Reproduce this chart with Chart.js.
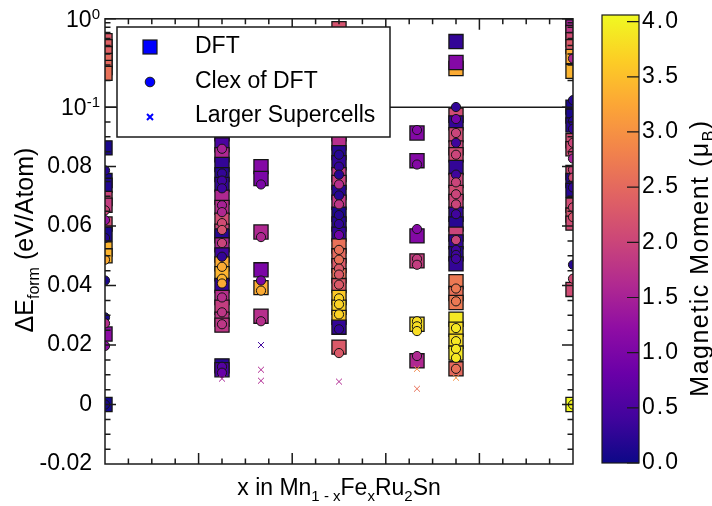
<!DOCTYPE html>
<html>
<head>
<meta charset="utf-8">
<script src="https://cdn.jsdelivr.net/npm/chart.js@4.4.1/dist/chart.umd.min.js"></script>
<style>
  html, body { margin: 0; padding: 0; background: #fff; }
  #wrap { width: 712px; height: 506px; }
</style>
</head>
<body>
<div id="wrap"><canvas id="chart" width="712" height="506"></canvas></div>
<script>
const FONT = '"Liberation Sans", Arial, Helvetica, sans-serif';

// x in Mn(1-x)Fe(x)Ru2Sn
const compositions = [0, 0.25, 1 / 3, 0.5, 2 / 3, 0.75, 1];

// DFT formation energies (eV/atom), one list per composition
const dftEnergy = [
  [0.566, 0.484, 0.404, 0.337, 0.281, 0.241, 0.0863, 0.0753, 0.0737, 0.0693, 0.067, 0.0607, 0.0573, 0.0523, 0.05, 0.0237, 0],
  [0.095, 0.091, 0.0873, 0.084, 0.0807, 0.0773, 0.074, 0.0697, 0.0663, 0.062, 0.0583, 0.0567, 0.0537, 0.0503, 0.0473, 0.044, 0.04, 0.036, 0.0327, 0.0287, 0.0267, 0.013, 0.0117],
  [0.08, 0.076, 0.058, 0.0453, 0.0393, 0.0297],
  [0.772, 0.095, 0.091, 0.088, 0.0847, 0.0813, 0.0773, 0.0747, 0.0713, 0.068, 0.064, 0.0607, 0.0573, 0.0533, 0.05, 0.0467, 0.0433, 0.04, 0.036, 0.0327, 0.0293, 0.026, 0.0193],
  [0.0913, 0.082, 0.0567, 0.0483, 0.027, 0.0147],
  [0.552, 0.274, 0.32, 0.0973, 0.0947, 0.0907, 0.0863, 0.084, 0.0797, 0.0753, 0.0713, 0.0683, 0.064, 0.0607, 0.0573, 0.0547, 0.0507, 0.0473, 0.0413, 0.0373, 0.0343, 0.0287, 0.0253, 0.0213, 0.0173, 0.012],
  [0.98, 0.81, 0.7, 0.58, 0.484, 0.374, 0.254, 0.1, 0.097, 0.094, 0.0887, 0.086, 0.078, 0.0753, 0.072, 0.067, 0.0637, 0.061, 0.0387, 0]
];
// magnetic moment (muB) of each DFT structure
const dftMoment = [
  [2.3, 2.4, 2.4, 2.5, 2.5, 2.6, 0.1, 0.1, 0.15, 2.0, 1.9, 2.1, 0.1, 3.4, 3.4, 1.2, 0.05],
  [0.5, 1.6, 0.5, 1.6, 0.3, 0.2, 0.3, 1.6, 1.7, 2.1, 2.0, 0.2, 1.6, 0.4, 3.3, 3.4, 0.3, 1.7, 1.9, 1.8, 1.8, 0.2, 0.5],
  [1.1, 1.0, 1.6, 1.0, 3.3, 1.7],
  [2.2, 0.3, 1.7, 1.7, 0.2, 0.3, 1.8, 1.9, 0.2, 1.8, 0.1, 0.2, 0.3, 2.6, 2.5, 2.3, 2.6, 2.3, 3.6, 3.7, 3.6, 0.3, 2.3],
  [1.1, 1.1, 1.1, 1.9, 3.8, 1.6],
  [0.3, 3.3, 1.1, 2.1, 0.3, 2.1, 2.0, 2.1, 0.3, 2.0, 2.1, 2.0, 0.3, 0.2, 2.0, 0.3, 0.2, 0.3, 2.7, 2.6, 2.7, 3.9, 3.8, 3.8, 3.9, 2.5],
  [0.1, 1.5, 1.8, 2.1, 2.3, 3.3, 3.4, 0.1, 0.1, 0.2, 2.1, 2.1, 2.1, 0.2, 0.2, 2.1, 2.2, 2.1, 2.1, 4.05]
];

// cluster expansion predictions for the same structures
const clexEnergy = [
  [0.0787, 0.0653, 0.062, 0.056, 0.0487, 0.0417, 0.0293, 0.0273, 0.0197, 0],
  [0.086, 0.0777, 0.0753, 0.0727, 0.067, 0.0647, 0.061, 0.0587, 0.0543, 0.0497, 0.0463, 0.0423, 0.0407, 0.036, 0.031, 0.027, 0.0127, 0.0107],
  [0.074, 0.0563, 0.0417, 0.0383, 0.028],
  [0.084, 0.08, 0.0773, 0.074, 0.0703, 0.0673, 0.0637, 0.0607, 0.057, 0.052, 0.0487, 0.0457, 0.0437, 0.0403, 0.0357, 0.0337, 0.0303, 0.0253, 0.0173],
  [0.0923, 0.0807, 0.059, 0.049, 0.047, 0.028, 0.0263, 0.0247, 0.0163],
  [0.1003, 0.096, 0.0913, 0.088, 0.084, 0.0773, 0.0747, 0.0707, 0.0673, 0.064, 0.0553, 0.052, 0.0503, 0.049, 0.039, 0.0347, 0.0257, 0.0213, 0.0187, 0.0157, 0.012],
  [0.355, 0.12, 0.0953, 0.0927, 0.088, 0.0847, 0.0827, 0.079, 0.0763, 0.073, 0.0663, 0.063, 0.047, 0.0423, 0]
];
const clexMoment = [
  [0.2, 2.0, 1.3, 0.2, 3.3, 0.1, 0.1, 1.7, 1.2, 0.1],
  [1.5, 0.3, 0.4, 0.4, 1.5, 1.6, 2.1, 2.2, 2.0, 0.3, 3.3, 3.4, 3.3, 1.7, 1.8, 1.8, 0.6, 0.8],
  [1.0, 1.6, 1.0, 3.3, 1.7],
  [0.2, 0.3, 0.2, 1.7, 0.2, 1.8, 0.2, 0.3, 0.9, 2.6, 2.6, 2.3, 2.3, 2.3, 3.7, 3.7, 3.7, 0.3, 2.3],
  [1.1, 1.1, 1.1, 1.9, 1.9, 3.8, 3.8, 3.8, 1.6],
  [0.3, 0.9, 2.0, 0.4, 2.0, 0.4, 2.0, 2.0, 2.0, 0.4, 2.0, 0.4, 0.4, 0.4, 2.7, 2.7, 3.9, 3.9, 3.9, 3.9, 2.6],
  [1.6, 0.2, 0.2, 0.3, 2.0, 2.0, 1.5, 2.0, 2.1, 0.3, 2.1, 2.2, 0.2, 2.1, 4.0]
];

// larger supercells searched with the cluster expansion
const superEnergy = [[], [0.0087], [0.02, 0.0117, 0.008], [0.0077], [0.012, 0.0053], [0.009], []];
const superMoment = [[], [1.5], [0.4, 1.6, 1.6], [1.6], [2.9, 2.6], [3.0], []];

// y axis: linear up to 0.1, log10 above
const yTickValues = [-0.02, 0, 0.02, 0.04, 0.06, 0.08, 0.1, 1];
const yTickText = ['-0.02', '0', '0.02', '0.04', '0.06', '0.08', '', ''];
const yPowerTicks = [[0.1, '-1'], [1, '0']];

const momentTicks = [0, 0.5, 1, 1.5, 2, 2.5, 3, 3.5, 4];
const MOMENT_MAX = 4.06;

const SPLIT = 0.1;
const LOG_DECADE = 0.0297; // height of one decade, in linear units

const PLASMA = ['#0d0887', '#41049d', '#6a00a8', '#8f0da4', '#b12a90', '#cc4778',
                '#e16462', '#f2844b', '#fca636', '#fcce25', '#f0f921'];

function hexRgb(h) {
  return [1, 3, 5].map(i => parseInt(h.slice(i, i + 2), 16));
}

function plasma(t) {
  t = Math.min(1, Math.max(0, t));
  const s = t * (PLASMA.length - 1);
  const i = Math.min(Math.floor(s), PLASMA.length - 2);
  const f = s - i;
  const a = hexRgb(PLASMA[i]), b = hexRgb(PLASMA[i + 1]);
  const c = a.map((v, k) => Math.round(v + (b[k] - v) * f));
  return `rgb(${c[0]}, ${c[1]}, ${c[2]})`;
}

function toLin(v) {
  return v <= SPLIT ? v : SPLIT + Math.log10(v / SPLIT) * LOG_DECADE;
}
function fromLin(t) {
  return t <= SPLIT ? t : SPLIT * Math.pow(10, (t - SPLIT) / LOG_DECADE);
}

class SplitLogScale extends Chart.Scale {
  determineDataLimits() {
    this.min = this.options.min;
    this.max = this.options.max;
  }
  buildTicks() {
    return yTickValues.map(value => ({ value }));
  }
  getLabelForValue(value) {
    return String(value);
  }
  configure() {
    super.configure();
    this._lo = toLin(this.min);
    this._span = toLin(this.max) - this._lo;
  }
  getPixelForValue(value) {
    return this.getPixelForDecimal((toLin(value) - this._lo) / this._span);
  }
  getValueForPixel(pixel) {
    return fromLin(this._lo + this.getDecimalForPixel(pixel) * this._span);
  }
}
SplitLogScale.id = 'splitlog';
SplitLogScale.defaults = {};
Chart.register(SplitLogScale);

function buildSeries(energy, moment) {
  const data = [];
  const colors = [];
  compositions.forEach((x, i) => {
    energy[i].forEach((e, j) => {
      data.push({ x, y: e });
      colors.push(plasma(moment[i][j] / MOMENT_MAX));
    });
  });
  return { data, colors };
}

const dft = buildSeries(dftEnergy, dftMoment);
const clex = buildSeries(clexEnergy, clexMoment);
const bigCells = buildSeries(superEnergy, superMoment);

// text with sub/superscript pieces: [text, shift] with shift 1 = sub, -1 = sup
function drawRuns(ctx, runs, x, y, size, align) {
  const fontOf = s => `${s ? Math.round(size * 0.64) : size}px ${FONT}`;
  const widths = runs.map(([t, s]) => {
    ctx.font = fontOf(s);
    return ctx.measureText(t).width;
  });
  const total = widths.reduce((a, b) => a + b, 0);
  let cx = align === 'center' ? x - total / 2 : align === 'right' ? x - total : x;
  ctx.textAlign = 'left';
  ctx.textBaseline = 'alphabetic';
  runs.forEach(([t, s], i) => {
    ctx.font = fontOf(s);
    const dy = s === 1 ? size * 0.24 : s === -1 ? -size * 0.36 : 0;
    ctx.fillText(t, cx, y + dy);
    cx += widths[i];
  });
}

const decor = {
  id: 'decor',
  beforeDatasetsDraw(chart) {
    const { ctx, chartArea: a, scales: { y } } = chart;
    const py = y.getPixelForValue(SPLIT);
    ctx.save();
    ctx.strokeStyle = '#1a1a1a';
    ctx.lineWidth = 1.5;
    ctx.beginPath();
    ctx.moveTo(a.left, py);
    ctx.lineTo(a.right, py);
    ctx.stroke();
    ctx.restore();
  },
  afterDatasetsDraw(chart) {
    const { ctx, chartArea: a, scales: { x, y } } = chart;
    ctx.save();
    ctx.strokeStyle = '#1a1a1a';
    ctx.lineWidth = 1.5;
    ctx.strokeRect(a.left, a.top, a.right - a.left, a.bottom - a.top);

    const big = 11, small = 5.5;
    ctx.beginPath();
    // x ticks, every 0.05
    for (let k = 1; k < 20; k++) {
      const v = k * 0.05;
      const len = k % 4 === 0 ? big : small;
      const px = x.getPixelForValue(v);
      ctx.moveTo(px, a.bottom); ctx.lineTo(px, a.bottom - len);
      ctx.moveTo(px, a.top); ctx.lineTo(px, a.top + len);
    }
    // y ticks: linear part every 0.005, log part 0.2 ... 0.9
    const yTicks = [];
    for (let k = -3; k <= 20; k++) yTicks.push([k * 0.005, k % 4 === 0 ? big : small]);
    for (let m = 2; m <= 9; m++) yTicks.push([m * 0.1, small]);
    yTicks.push([1, big]);
    yTicks.forEach(([v, len]) => {
      const py = y.getPixelForValue(v);
      ctx.moveTo(a.left, py); ctx.lineTo(a.left + len, py);
      ctx.moveTo(a.right, py); ctx.lineTo(a.right - len, py);
    });
    ctx.stroke();

    // power-of-ten labels
    ctx.fillStyle = '#000';
    yPowerTicks.forEach(([v, p]) => {
      const py = y.getPixelForValue(v);
      drawRuns(ctx, [['10', 0], [p, -1]], a.left - 5, py + 8, 23, 'right');
    });
    ctx.restore();
  },
  afterDraw(chart) {
    const { ctx, chartArea: a } = chart;
    ctx.save();
    ctx.fillStyle = '#000';

    // axis titles
    drawRuns(ctx, [['x in Mn', 0], ['1 - x', 1], ['Fe', 0], ['x', 1], ['Ru', 0], ['2', 1], ['Sn', 0]],
      (a.left + a.right) / 2, 495, 23, 'center');
    ctx.save();
    ctx.translate(33, 240);
    ctx.rotate(-Math.PI / 2);
    drawRuns(ctx, [['\u0394E', 0], ['form', 1], [' (eV/Atom)', 0]], 0, 0, 25, 'center');
    ctx.restore();

    // legend
    const lx = 117, ly = 27, lw = 273, lh = 110;
    ctx.fillStyle = '#fff';
    ctx.fillRect(lx, ly, lw, lh);
    ctx.strokeStyle = '#1a1a1a';
    ctx.lineWidth = 1.5;
    ctx.strokeRect(lx, ly, lw, lh);
    ctx.fillStyle = '#0000ff';
    ctx.lineWidth = 1.2;
    ctx.fillRect(143, 40, 14, 14);
    ctx.strokeRect(143, 40, 14, 14);
    ctx.beginPath();
    ctx.arc(150, 82, 4.8, 0, Math.PI * 2);
    ctx.fill();
    ctx.lineWidth = 1;
    ctx.stroke();
    ctx.strokeStyle = '#0000ff';
    ctx.lineWidth = 2;
    ctx.beginPath();
    ctx.moveTo(147, 114); ctx.lineTo(153, 120);
    ctx.moveTo(153, 114); ctx.lineTo(147, 120);
    ctx.stroke();
    ctx.fillStyle = '#000';
    ctx.font = `23px ${FONT}`;
    ctx.textAlign = 'left';
    ctx.textBaseline = 'alphabetic';
    ctx.fillText('DFT', 195, 53);
    ctx.fillText('Clex of DFT', 195, 88);
    ctx.fillText('Larger Supercells', 195, 122);

    // colour bar
    const cx0 = 602, cx1 = 639, ct = 15, cb = 463;
    const grad = ctx.createLinearGradient(0, cb, 0, ct);
    PLASMA.forEach((c, i) => grad.addColorStop(i / (PLASMA.length - 1), c));
    ctx.fillStyle = grad;
    ctx.fillRect(cx0, ct, cx1 - cx0, cb - ct);
    ctx.strokeStyle = '#1a1a1a';
    ctx.lineWidth = 1.2;
    ctx.strokeRect(cx0, ct, cx1 - cx0, cb - ct);
    ctx.fillStyle = '#000';
    ctx.font = `23px ${FONT}`;
    ctx.textBaseline = 'middle';
    ctx.letterSpacing = '2px';
    ctx.beginPath();
    momentTicks.forEach(m => {
      const py = cb - (m / MOMENT_MAX) * (cb - ct);
      ctx.moveTo(cx1 - 12, py); ctx.lineTo(cx1, py);
      ctx.fillText(m.toFixed(1), cx1 + 3, py);
    });
    ctx.stroke();
    ctx.letterSpacing = '1.5px';
    ctx.translate(708, 258);
    ctx.rotate(-Math.PI / 2);
    drawRuns(ctx, [['Magnetic Moment (\u03bc', 0], ['B', 1], [')', 0]], 0, 0, 25, 'center');
    ctx.restore();
  }
};

const chart = new Chart(document.getElementById('chart'), {
  type: 'scatter',
  data: {
    datasets: [
      {
        label: 'DFT',
        data: dft.data,
        pointStyle: 'rect',
        pointRadius: 10,
        pointBackgroundColor: dft.colors,
        pointBorderColor: '#151515',
        pointBorderWidth: 1.3,
        order: 3,
        clip: 0
      },
      {
        label: 'Clex of DFT',
        data: clex.data,
        pointStyle: 'circle',
        pointRadius: 4.6,
        pointBackgroundColor: clex.colors,
        pointBorderColor: '#151515',
        pointBorderWidth: 1,
        order: 2,
        clip: 0
      },
      {
        label: 'Larger Supercells',
        data: bigCells.data,
        pointStyle: 'crossRot',
        pointRadius: 4.2,
        pointBorderColor: bigCells.colors,
        pointBorderWidth: 1,
        order: 1,
        clip: 0
      }
    ]
  },
  options: {
    responsive: false,
    animation: false,
    events: [],
    layout: { padding: { top: 15, right: 139, left: 0, bottom: 0 } },
    scales: {
      x: {
        type: 'linear',
        min: 0,
        max: 1,
        grid: { display: false },
        border: { display: false },
        ticks: { display: false },
        afterFit: s => { s.height = 42; }
      },
      y: {
        type: 'splitlog',
        min: -0.02,
        max: 1,
        grid: { display: false },
        border: { display: false },
        ticks: {
          autoSkip: false,
          padding: 5,
          color: '#000',
          font: { family: FONT, size: 23 },
          callback: (v, i) => yTickText[i]
        },
        afterFit: s => { s.width = 105; }
      }
    },
    plugins: {
      legend: { display: false },
      tooltip: { enabled: false }
    }
  },
  plugins: [decor]
});
</script>
</body>
</html>
